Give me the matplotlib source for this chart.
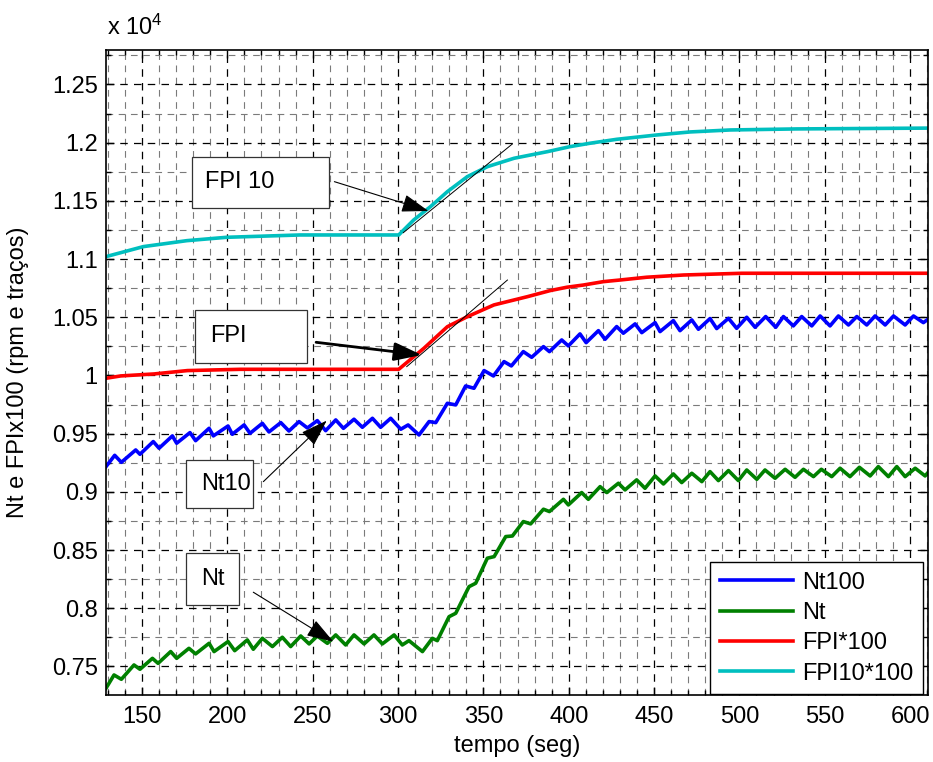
import matplotlib
matplotlib.use("Agg")
import matplotlib.pyplot as plt
from matplotlib.patches import Rectangle
from matplotlib.ticker import MultipleLocator, FuncFormatter

plt.rcParams["font.family"] = ["Liberation Sans", "DejaVu Sans"]
plt.rcParams["mathtext.default"] = "regular"

# speeds in units of 10^4 (rpm and tracos*100)
T_NT100 = [128.9, 134.0, 137.9, 146.3, 148.8, 156.6, 160.0, 167.8, 170.3, 178.1, 181.4, 189.3,
           191.8, 200.4, 202.9, 209.8, 213.3, 220.5, 224.4, 231.3, 236.1, 242.0, 246.9, 252.7,
           257.6, 263.5, 268.0, 274.2, 279.1, 285.0, 289.8, 295.7, 301.6, 305.9, 312.3, 318.2,
           322.1, 328.9, 333.8, 339.6, 344.5, 350.4, 355.9, 362.1, 366.4, 373.4, 378.3, 385.2,
           388.7, 395.9, 399.8, 406.6, 410.2, 417.4, 421.3, 428.1, 432.0, 438.9, 442.8, 450.6,
           453.5, 461.3, 465.2, 472.1, 476.0, 482.8, 486.7, 493.6, 498.4, 504.3, 509.2, 515.4,
           521.3, 525.8, 531.6, 536.5, 542.4, 547.3, 553.1, 558.0, 563.9, 568.8, 574.6, 579.5,
           585.4, 590.3, 597.1, 602.0, 607.8, 610.5]
NT100 = [0.9217, 0.9314, 0.9254, 0.9360, 0.9323, 0.9432, 0.9375, 0.9481, 0.9418, 0.9509, 0.9440,
         0.9546, 0.9481, 0.9566, 0.9495, 0.9575, 0.9503, 0.9589, 0.9515, 0.9595, 0.9523, 0.9604,
         0.9549, 0.9612, 0.9526, 0.9618, 0.9546, 0.9624, 0.9555, 0.9632, 0.9555, 0.9632, 0.9538,
         0.9575, 0.9489, 0.9604, 0.9595, 0.9761, 0.9747, 0.9910, 0.9890, 1.0042, 0.9996, 1.0119,
         1.0082, 1.0205, 1.0156, 1.0248, 1.0205, 1.0305, 1.0254, 1.0357, 1.0282, 1.0385, 1.0311,
         1.0420, 1.0363, 1.0443, 1.0368, 1.0454, 1.0377, 1.0471, 1.0385, 1.0477, 1.0397, 1.0489,
         1.0403, 1.0491, 1.0405, 1.0500, 1.0414, 1.0506, 1.0414, 1.0506, 1.0426, 1.0506, 1.0426,
         1.0511, 1.0426, 1.0511, 1.0434, 1.0506, 1.0434, 1.0511, 1.0434, 1.0511, 1.0434, 1.0511,
         1.0454, 1.0483]

T_NT = [128.9, 133.6, 137.9, 145.3, 148.8, 156.1, 159.4, 166.8, 170.3, 177.5, 181.4, 189.3,
        192.2, 200.4, 204.3, 211.7, 215.2, 220.5, 226.4, 232.2, 237.1, 243.0, 247.9, 252.7,
        258.6, 263.5, 269.3, 274.2, 280.1, 285.9, 290.8, 297.7, 302.5, 306.4, 314.3, 320.1,
        323.0, 329.9, 333.8, 341.6, 345.5, 352.3, 356.3, 363.1, 367.0, 373.4, 377.7, 385.2,
        388.7, 396.9, 399.8, 407.6, 411.5, 418.4, 422.3, 429.1, 433.0, 439.8, 444.7, 450.6,
        455.5, 461.3, 466.2, 472.1, 478.0, 482.8, 487.7, 493.6, 499.4, 504.3, 510.2, 515.0,
        520.9, 526.8, 532.6, 537.5, 543.4, 548.0, 554.1, 559.0, 564.8, 570.3, 576.6, 581.4,
        587.3, 592.2, 597.1, 603.0, 608.8, 610.5]
NT = [0.7313, 0.7427, 0.7390, 0.7513, 0.7476, 0.7570, 0.7527, 0.7628, 0.7570, 0.7656, 0.7608,
      0.7699, 0.7628, 0.7714, 0.7636, 0.7728, 0.7648, 0.7742, 0.7671, 0.7751, 0.7671, 0.7762,
      0.7694, 0.7762, 0.7699, 0.7771, 0.7685, 0.7771, 0.7694, 0.7771, 0.7694, 0.7771, 0.7685,
      0.7722, 0.7628, 0.7742, 0.7722, 0.7928, 0.7957, 0.8186, 0.8215, 0.8430, 0.8444, 0.8616,
      0.8621, 0.8745, 0.8725, 0.8851, 0.8831, 0.8936, 0.8888, 0.8994, 0.8936, 0.9045, 0.8994,
      0.9074, 0.9017, 0.9103, 0.9031, 0.9137, 0.9068, 0.9154, 0.9080, 0.9160, 0.9088, 0.9174,
      0.9097, 0.9183, 0.9097, 0.9188, 0.9108, 0.9188, 0.9117, 0.9194, 0.9125, 0.9194, 0.9131,
      0.9194, 0.9131, 0.9203, 0.9131, 0.9211, 0.9137, 0.9217, 0.9131, 0.9217, 0.9131, 0.9203,
      0.9137, 0.9166]

T_FPI = [128.9, 137.5, 157.0, 176.6, 207.8, 300.4, 315.2, 328.9, 340.6, 356.2, 375.8, 389.1,
         398.9, 408.6, 420.3, 430.0, 445.7, 467.2, 501.4, 610.5]
FPI = [0.9976, 0.9996, 1.0013, 1.0042, 1.0053, 1.0053, 1.0234, 1.0419, 1.0505, 1.0606, 1.0677,
       1.0729, 1.0758, 1.0777, 1.0806, 1.0820, 1.0844, 1.0863, 1.0878, 1.0878]

T_FPI10 = [128.9, 150.8, 176.2, 199.6, 242.6, 300.4, 309.2, 319.0, 328.9, 340.6, 352.4, 368.0,
           387.6, 400.8, 412.5, 428.2, 451.6, 471.1, 494.6, 533.6, 610.5]
FPI10 = [1.1021, 1.1107, 1.1158, 1.1187, 1.1207, 1.1207, 1.1336, 1.1450, 1.1579, 1.1708, 1.1794,
         1.1866, 1.1923, 1.1966, 1.1995, 1.2029, 1.2066, 1.2092, 1.2109, 1.2118, 1.2125]

# tangent segments drawn over the FPI ramps
TAN_FPI10 = ([303.1, 367.0], [1.1227, 1.1989])
TAN_FPI = ([305.1, 364.1], [1.0076, 1.0820])

W, H = 933, 762
fig = plt.figure(figsize=(W / 100, H / 100), dpi=100)
ax = fig.add_axes([106 / W, 1 - 695 / H, 822 / W, 645 / H])

lw = 2.6
ax.plot(T_NT100, NT100, color=(0, 0, 1), lw=lw, label="Nt100", solid_joinstyle="round")
ax.plot(T_NT, NT, color=(0, 0.5, 0), lw=lw, label="Nt", solid_joinstyle="round")
ax.plot(T_FPI, FPI, color=(1, 0, 0), lw=lw, label="FPI*100")
ax.plot(T_FPI10, FPI10, color=(0, 0.75, 0.75), lw=lw, label="FPI10*100")

ax.plot(*TAN_FPI10, color="k", lw=0.7)
ax.plot(*TAN_FPI, color="k", lw=0.7)

ax.set_xlim(128.9, 610.5)
ax.set_ylim(0.7255, 1.2796)
ax.xaxis.set_major_locator(MultipleLocator(50))
ax.xaxis.set_minor_locator(MultipleLocator(10))
ax.yaxis.set_major_locator(MultipleLocator(0.05))
ax.yaxis.set_minor_locator(MultipleLocator(0.025))
ax.yaxis.set_major_formatter(FuncFormatter(lambda v, p: f"{v:g}"))
ax.xaxis.set_major_formatter(FuncFormatter(lambda v, p: f"{v:g}"))

ax.set_axisbelow(True)
ax.grid(which="major", color="k", ls=(0, (6, 5)), lw=0.9)
ax.grid(which="minor", color="#7a7a7a", ls=(0, (6, 5)), lw=0.8)
ax.tick_params(which="both", direction="in", top=True, right=True, width=1, labelsize=17)
ax.tick_params(which="major", length=6)
ax.tick_params(which="minor", length=3.5)
ax.tick_params(axis="y", pad=6)
ax.tick_params(axis="x", pad=8)
for s in ax.spines.values():
    s.set_linewidth(1.2)

ax.set_xlabel("tempo (seg)", fontsize=17)
ax.set_ylabel("Nt e FPIx100 (rpm e traços)", fontsize=17)
ax.xaxis.set_label_coords(0.5, -0.062)
ax.yaxis.set_label_coords(-0.094, 0.5)
fig.text(106.7 / W, 1 - 35 / H, r"x 10$^4$", fontsize=17, va="baseline", ha="left")

leg = ax.legend(loc="lower right", bbox_to_anchor=(0.9943, 0.0016), borderaxespad=0,
                fontsize=17, fancybox=False, framealpha=1, edgecolor="k",
                handlelength=3.1, handletextpad=0.42, labelspacing=0.35)
leg.get_frame().set_linewidth(1.0)

# label arrows (data coords): start -> tip
def arrow(start, tip, lw=0.8):
    ax.annotate("", xy=tip, xytext=start,
                arrowprops=dict(arrowstyle="-|>,head_length=0.42,head_width=0.14",
                                mutation_scale=40, color="k", lw=lw,
                                shrinkA=0, shrinkB=0))

arrow((262.7, 1.1665), (317.8, 1.1413))
arrow((252.0, 1.0285), (313.9, 1.0176), lw=2.0)
arrow((221.1, 0.9088), (258.2, 0.9612))
arrow((215.2, 0.8138), (262.1, 0.7713))

# text boxes in figure pixels: (x0, y0, x1, y1), text x
boxes = [
    ("FPI 10", (191.7, 157.3, 329.3, 207.7), 205.0),
    ("FPI", (195.0, 310.0, 306.7, 362.7), 210.0),
    ("Nt10", (185.7, 460.0, 253.3, 508.3), 201.3),
    ("Nt", (185.7, 552.7, 239.0, 605.0), 201.3),
]
for label, (x0, y0, x1, y1), tx in boxes:
    fig.add_artist(Rectangle((x0 / W, 1 - y1 / H), (x1 - x0) / W, (y1 - y0) / H,
                             transform=fig.transFigure, facecolor="white",
                             edgecolor="#333333", lw=0.9, zorder=5))
    fig.text(tx / W, 1 - (y0 + y1) / 2 / H, label, fontsize=17, va="center", ha="left",
             zorder=6)

fig.savefig("out.png", dpi=100)
